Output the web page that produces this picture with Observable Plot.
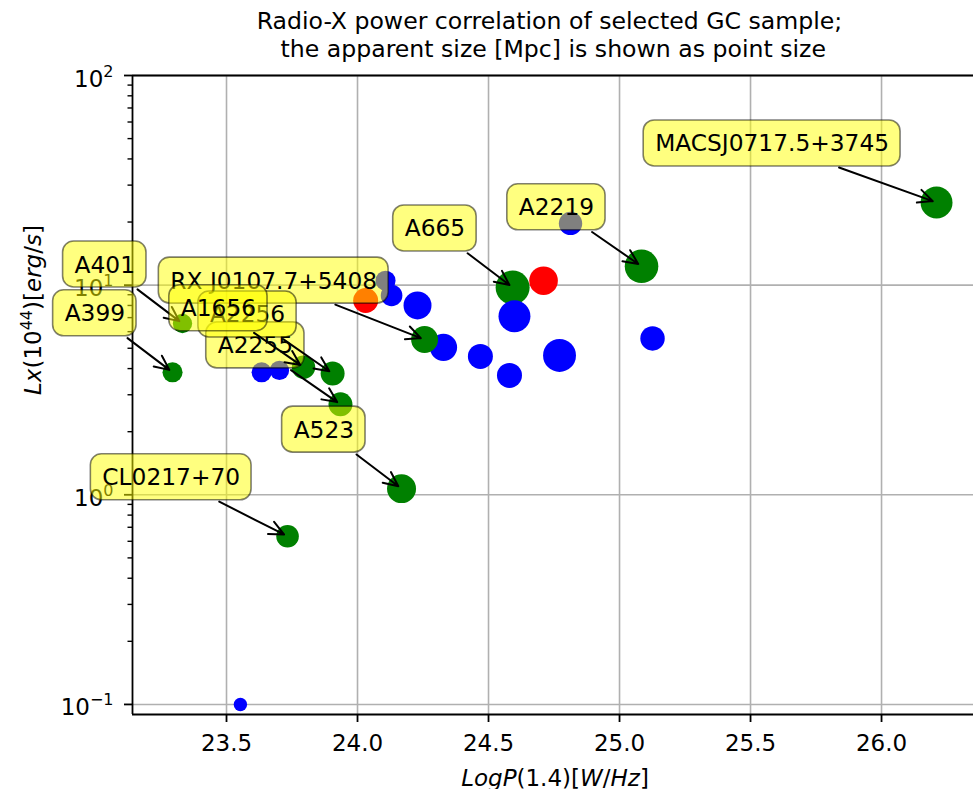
<!DOCTYPE html>
<html>
<head>
<meta charset="utf-8">
<script src="https://cdn.jsdelivr.net/npm/d3@7"></script>
<script src="https://cdn.jsdelivr.net/npm/@observablehq/plot@0.6"></script>
<style>
  body { margin: 0; background: #fff; font-family: "DejaVu Sans", sans-serif; }
  #title {
    width: 973px; height: 60px; box-sizing: border-box;
    padding: 7px 0 0 126px; text-align: center;
    font-size: 23.6px; line-height: 28px; white-space: pre; color: #000;
  }
  svg { display: block; }
</style>
</head>
<body>
<div id="title"></div>
<div id="chart"></div>
<script>
// ---- data -------------------------------------------------------------
const titleLines = [
  "Radio-X power correlation of selected GC sample;",
  " the apparent size [Mpc] is shown as point size"
];

// cluster name ("" = not annotated)
const names = [
  "CL0217+70", "A399", "A401", "", "", "A1656", "A2256", "A2255", "A523",
  "RX J0107.7+5408", "A665", "MACSJ0717.5+3745", "A2219",
  "", "",
  "", "", "", "", "", "", "", "", "", "", ""
];
// log radio power at 1.4 GHz [W/Hz]
const logP = [
  23.733, 23.294, 23.332, 23.634, 23.702, 23.794, 23.905, 23.935, 24.168,
  24.256, 24.592, 26.210, 25.084,
  24.031, 24.710,
  24.107, 24.130, 24.229, 24.328, 24.469, 24.580, 24.599, 24.771, 24.813, 25.126, 23.553
];
// X-ray luminosity [1e44 erg/s]
const lx = [
  0.634, 3.84, 6.56, 3.84, 3.92, 4.06, 3.79, 2.70, 1.07,
  5.50, 9.75, 24.8, 12.3,
  8.45, 10.5,
  10.5, 8.93, 8.00, 5.05, 4.57, 3.71, 7.10, 4.62, 19.7, 5.57, 0.100
];
// apparent size [Mpc]
const sizeMpc = [
  0.71, 0.56, 0.52, 0.56, 0.52, 0.76, 0.80, 0.80, 1.17,
  1.01, 1.61, 1.42, 1.57,
  0.87, 1.14,
  0.56, 0.65, 1.09, 1.04, 0.87, 0.87, 1.42, 1.51, 0.76, 0.83, 0.25
];
// sample group
const group = [
  "halo", "halo", "halo", "other", "other", "halo", "halo", "halo", "halo",
  "halo", "halo", "halo", "halo",
  "mini", "mini",
  "other", "other", "other", "other", "other", "other", "other", "other", "other", "other", "other"
];
const groupNames = ["halo", "other", "mini"];
const groupColors = ["green", "blue", "red"];

// drawing order of the annotations
const noteOrder = ["MACSJ0717.5+3745", "A2219", "A665", "A399", "A401", "CL0217+70",
                   "A523", "RX J0107.7+5408", "A2255", "A2256", "A1656"];

const xTicks = [23.5, 24.0, 24.5, 25.0, 25.5, 26.0];
const yMajor = [0.1, 1, 10, 100];
const yMinor = [0.2, 0.3, 0.4, 0.5, 0.6, 0.7, 0.8, 0.9, 2, 3, 4, 5, 6, 7, 8, 9, 20, 30, 40, 50, 60, 70, 80, 90];

const xLabelParts = [["LogP", "i"], ["(1.4)[", ""], ["W", "i"], ["/", ""], ["Hz", "i"], ["]", ""]];
const yLabelParts = [["Lx", "i"], ["(10", ""], ["44", "sup"], [")[", ""], ["erg", "i"], ["/", ""], ["s", "i"], ["]", ""]];

// ---- layout -----------------------------------------------------------
const W = 973, H = 729;
const M = {top: 15, right: 0, bottom: 75, left: 132};
const xDomain = [23.1412, 26.351];
const yDomain = [Math.pow(10, -1.048), 100];
const FONT = 23, NOTE_FONT = 23.3, SUP = 16;
const OFF = 36;      // box corner offset from the point (px)
const PAD = 11.5;    // box padding
const BOX_H = 46;    // box height
const BASE = 51;     // label baseline above the point
const SHRINK = 3;

document.getElementById("title").textContent = titleLines.join("\n");

const points = names.map((name, i) => ({
  name, logP: logP[i], lx: lx[i], size: sizeMpc[i], group: group[i]
}));

const xs = Plot.scale({x: {domain: xDomain, range: [M.left, W - M.right]}});
const ys = Plot.scale({y: {type: "log", domain: yDomain, range: [H - M.bottom, M.top]}});

const ctx = document.createElement("canvas").getContext("2d");
ctx.font = `${NOTE_FONT}px "DejaVu Sans"`;

const notes = noteOrder.map(nm => points.find(p => p.name === nm)).map(d => {
  const px = xs.apply(d.logP), py = ys.apply(d.lx);
  const w = ctx.measureText(d.name).width;
  const right = px - OFF, bottom = py - OFF;
  const left = right - w - 2 * PAD, top = bottom - BOX_H;
  const cx = (left + right) / 2, cy = (top + bottom) / 2;
  const vx = px - cx, vy = py - cy;
  const t = Math.min((right - cx) / Math.abs(vx), (bottom - cy) / Math.abs(vy));
  const s = t + SHRINK / Math.hypot(vx, vy);
  return {
    ...d,
    bx1: xs.invert(left), bx2: xs.invert(right),
    by1: ys.invert(bottom), by2: ys.invert(top),
    ax: xs.invert(cx + vx * s), ay: ys.invert(cy + vy * s)
  };
});

const noteMarks = notes.flatMap(n => [
  Plot.arrow([n], {x1: "ax", y1: "ay", x2: "logP", y2: "lx", stroke: "black",
    strokeWidth: 2, headLength: 12, headAngle: 50, insetEnd: 4}),
  Plot.rect([n], {x1: "bx1", x2: "bx2", y1: "by1", y2: "by2", fill: "yellow",
    fillOpacity: 0.5, stroke: "black", strokeOpacity: 0.5, strokeWidth: 1.6, rx: 11, ry: 11}),
  Plot.text([n], {x: "logP", y: "lx", text: "name", textAnchor: "end", lineAnchor: "bottom",
    dx: -(OFF + PAD), dy: -BASE, fontSize: NOTE_FONT, fill: "black"})
]);

const gridStyle = {stroke: "#b0b0b0", strokeOpacity: 1, strokeWidth: 1.6};

const chart = Plot.plot({
  width: W, height: H,
  marginTop: M.top, marginRight: M.right, marginBottom: M.bottom, marginLeft: M.left,
  style: {fontFamily: '"DejaVu Sans", sans-serif', fontSize: FONT + "px", background: "white", overflow: "visible"},
  x: {domain: xDomain},
  y: {type: "log", domain: yDomain},
  r: {type: "sqrt", domain: [0, 1.61], range: [0, 17]},
  color: {domain: groupNames, range: groupColors},
  marks: [
    Plot.gridX(xTicks, gridStyle),
    Plot.gridY(yMajor, gridStyle),
    Plot.axisX(xTicks, {tickSize: 8, tickPadding: 12, tickFormat: d => d.toFixed(1),
      label: null, stroke: "black", strokeWidth: 1.8, fontSize: FONT}),
    Plot.axisY(yMajor, {tickSize: 8, tickPadding: 11, tickFormat: d => "10^" + Math.round(Math.log10(d)),
      label: null, stroke: "black", strokeWidth: 1.8, fontSize: FONT}),
    Plot.axisY(yMinor, {tickSize: 4.5, tickFormat: () => "", label: null, stroke: "black", strokeWidth: 1.4}),
    Plot.ruleX([xDomain[0]], {stroke: "black", strokeWidth: 1.8}),
    Plot.ruleY([yDomain[0], yDomain[1]], {stroke: "black", strokeWidth: 1.8}),
    Plot.dot(points, {x: "logP", y: "lx", r: "size", fill: "group"}),
    ...noteMarks,
    Plot.text([xLabelParts.map(p => p[0]).join("")], {frameAnchor: "bottom", lineAnchor: "bottom",
      dy: 71, dx: 2, fontSize: FONT, fill: "black"}),
    Plot.text([yLabelParts.map(p => p[0]).join("")], {frameAnchor: "left", rotate: -90,
      dx: -99, fontSize: FONT, fill: "black"})
  ]
});

// mixed upright / italic / superscript runs, as in math-text labels
function richText(el, parts, shift) {
  el.textContent = "";
  let raised = false;
  for (const [t, style] of parts) {
    const ts = document.createElementNS("http://www.w3.org/2000/svg", "tspan");
    ts.textContent = t;
    if (style === "i") ts.setAttribute("font-style", "italic");
    if (style === "sup") {
      ts.setAttribute("font-size", SUP);
      ts.setAttribute("dy", -shift);
      raised = true;
    } else if (raised) {
      ts.setAttribute("dy", shift);
      raised = false;
    }
    el.appendChild(ts);
  }
}

const xLabelText = xLabelParts.map(p => p[0]).join("");
const yLabelText = yLabelParts.map(p => p[0]).join("");
for (const el of chart.querySelectorAll("text")) {
  const s = el.textContent;
  const m = /^10\^(-?\d+)$/.exec(s);
  if (m) {
    richText(el, [["10", ""], [m[1].replace("-", "\u2212"), "sup"]], 10);
    el.setAttribute("y", "11");
  } else if (s === xLabelText) {
    richText(el, xLabelParts, 9);
  } else if (s === yLabelText) {
    richText(el, yLabelParts, 9);
  }
}

document.getElementById("chart").appendChild(chart);
</script>
</body>
</html>
